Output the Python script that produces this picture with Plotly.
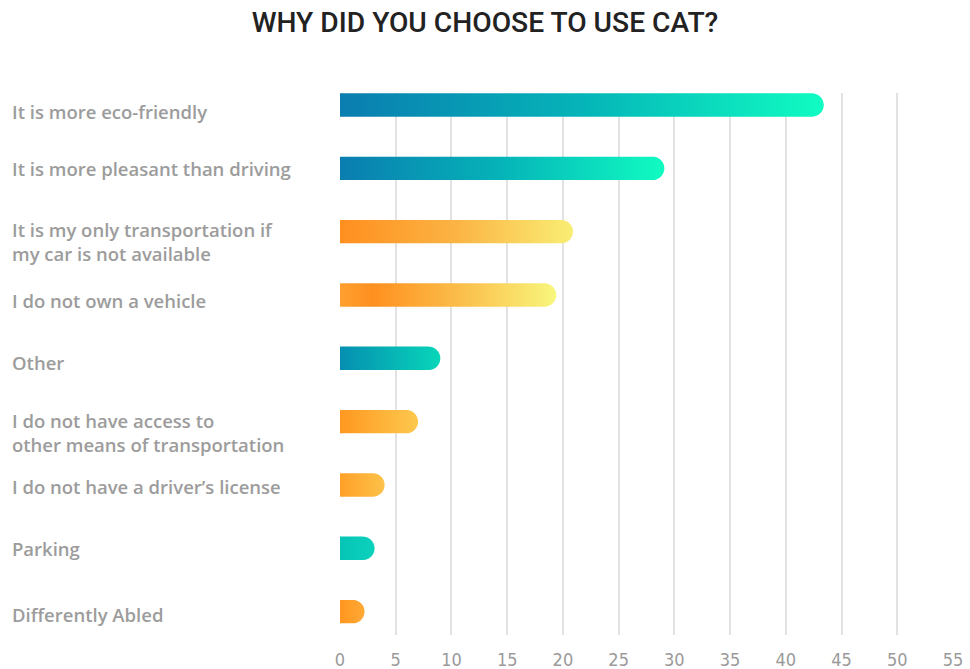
import numpy as np
import plotly.graph_objects as go

# ---- data ----
categories = [
    "It is more eco-friendly",
    "It is more pleasant than driving",
    "It is my only transportation if<br>my car is not available",
    "I do not own a vehicle",
    "Other",
    "I do not have access to<br>other means of transportation",
    "I do not have a driver’s license",
    "Parking",
    "Differently Abled",
]
values = [43.4, 29.1, 20.9, 19.4, 9.0, 7.0, 4.0, 3.1, 2.2]
tick_values = [0, 5, 10, 15, 20, 25, 30, 35, 40, 45, 50, 55]
title_text = "WHY DID YOU CHOOSE TO USE CAT?"

# ---- styles (gradient stops per bar) ----
bar_gradients = [
    [[0, "#0a7db0"], [0.5, "#05b4b8"], [1, "#10fcc2"]],
    [[0, "#0a7db0"], [0.5, "#05b4b8"], [1, "#10fcc2"]],
    [[0, "#ff8f1f"], [0.5, "#fbb444"], [1, "#f9ee74"]],
    [[0, "#ffa030"], [0.15, "#ff901f"], [0.55, "#fbbd4a"], [1, "#f8f67c"]],
    [[0, "#058fb1"], [1, "#08d6b9"]],
    [[0, "#ff9820"], [1, "#fdc84e"]],
    [[0, "#ffa028"], [1, "#fdc24a"]],
    [[0, "#06c4b6"], [1, "#0bd2bc"]],
    [[0, "#ff961f"], [1, "#ffaa36"]],
]
# per-label small vertical nudges (px) to follow the reference layout
label_nudge = [-5, 1, 4, -4, -3, 3, 0, 1, -1]

W, H = 970, 669
ML, MR, MT, MB = 340, 17, 93, 34
xr = [0, 55]
px_per_x = (W - ML - MR) / (xr[1] - xr[0])
step_px = 63.33
y_top = -(105 - MT) / step_px
y_bot = y_top + (H - MT - MB) / step_px
bar_half_px = 11.7
hy = bar_half_px / step_px
rx = bar_half_px / px_per_x

fig = go.Figure()
for i, (v, grad) in enumerate(zip(values, bar_gradients)):
    t = np.linspace(np.pi / 2, -np.pi / 2, 40)
    xs = [0, v - rx] + list(v - rx + rx * np.cos(t)) + [0, 0]
    ys = [i - hy, i - hy] + list(i - hy * np.sin(t)) + [i + hy, i - hy]
    fig.add_trace(go.Scatter(
        x=xs, y=ys, mode="none", fill="toself",
        fillgradient=dict(type="horizontal", colorscale=grad),
        hoverinfo="skip", showlegend=False,
    ))

for i, lab in enumerate(categories):
    fig.add_annotation(
        text=lab, xref="paper", x=(10 - ML) / (W - ML - MR), xanchor="left",
        yref="y", y=i, yanchor="top", yshift=13 + label_nudge[i], showarrow=False,
        align="left",
        font=dict(family="Open Sans", size=18.5, weight=600, color="#9c9c9c"),
    )

fig.update_layout(
    width=W, height=H,
    margin=dict(l=ML, r=MR, t=MT, b=MB, autoexpand=False),
    paper_bgcolor="white", plot_bgcolor="white",
    title=dict(text=title_text, xref="container", x=0.5, xanchor="center",
               yref="container", y=1 - 22 / H, yanchor="middle", automargin=False,
               font=dict(family="Roboto", size=28.2, weight=500, color="#222222")),
    xaxis=dict(range=xr, tickvals=tick_values, showgrid=True, gridcolor="#e2e2e2",
               gridwidth=1.5, zeroline=False, showline=False, ticks="",
               automargin=False, ticklabelstandoff=12,
               tickfont=dict(family="DejaVu Sans Condensed, Roboto", size=18,
                             color="#9a9a9a"),
               fixedrange=True),
    yaxis=dict(range=[y_bot, y_top], showgrid=False, zeroline=False,
               automargin=False, showticklabels=False, fixedrange=True),
)

fig.write_html("out.html")
